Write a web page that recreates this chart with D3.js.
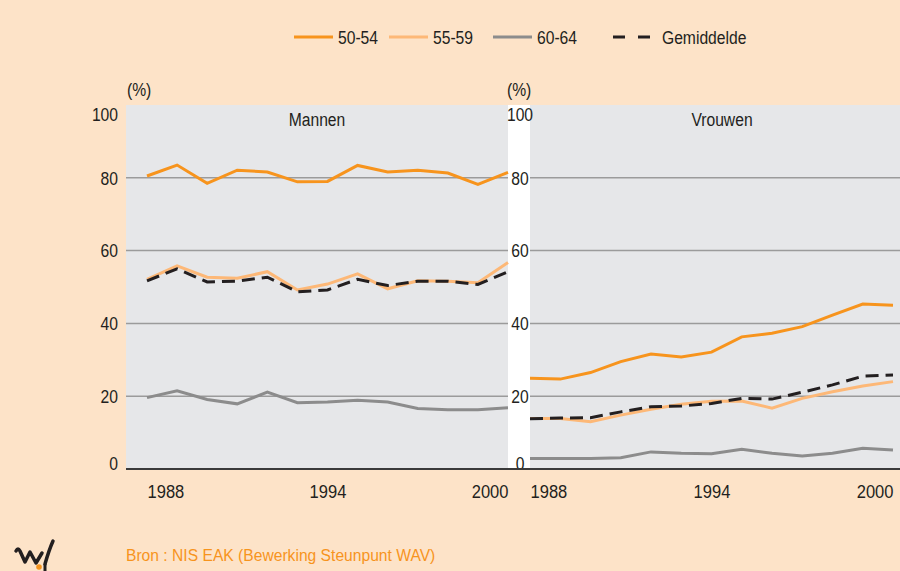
<!DOCTYPE html>
<html lang="nl">
<head>
<meta charset="UTF-8">
<title>Werkzaamheid 50-64</title>
<script src="https://d3js.org/d3.v7.min.js"></script>
<style>
    body { margin: 0; background: #fde3c8; }
    svg text { font-family: "Liberation Sans Narrow", "Liberation Sans", Arial, sans-serif; fill: #231f20; }
</style>
</head>
<body>
<div id="chart"></div>
<script>
    // data
    const years = [1988, 1989, 1990, 1991, 1992, 1993, 1994, 1995, 1996, 1997, 1998, 1999, 2000];
    const mannen5054 = [80.5, 83.5, 78.5, 82.1, 81.6, 78.9, 79.0, 83.4, 81.6, 82.1, 81.3, 78.2, 81.5];
    const mannen5559 = [52.1, 55.8, 52.7, 52.4, 54.2, 49.2, 50.8, 53.6, 49.5, 51.7, 51.6, 51.2, 56.7];
    const mannen6064 = [19.6, 21.5, 19.1, 17.9, 21.1, 18.2, 18.4, 18.9, 18.4, 16.6, 16.3, 16.3, 16.8];
    const mannenGem = [51.7, 55.0, 51.4, 51.6, 52.7, 48.7, 49.2, 52.1, 50.4, 51.6, 51.6, 50.7, 54.2];
    const vrouwen5054 = [24.9, 24.7, 26.5, 29.5, 31.6, 30.8, 32.1, 36.3, 37.3, 39.1, 42.3, 45.3, 45.0];
    const vrouwen5559 = [13.9, 13.9, 13.0, 14.8, 16.4, 17.8, 18.6, 18.7, 16.7, 19.4, 21.2, 22.8, 24.0];
    const vrouwen6064 = [2.9, 2.9, 2.9, 3.1, 4.7, 4.3, 4.2, 5.4, 4.3, 3.6, 4.3, 5.7, 5.2];
    const vrouwenGem = [13.8, 14.0, 14.1, 15.7, 17.1, 17.3, 18.0, 19.4, 19.2, 21.1, 23.1, 25.5, 25.8];
    const seriesNames = ["50-54", "55-59", "60-64", "Gemiddelde"];
    const yTicks = [0, 20, 40, 60, 80, 100];
    const xTicks = [1988, 1994, 2000];

    const colors = {"50-54": "#f7941d", "55-59": "#fdb877", "60-64": "#8c8c8c", "Gemiddelde": "#231f20"};
    const dashes = {"Gemiddelde": "13,7"};

    // no condensed font installed, so squeeze the text horizontally
    const SX = 0.87;
    function narrow(sel, sx) {
        sx = sx || SX;
        sel.each(function() {
            const t = d3.select(this);
            const x = +t.attr("x") || 0;
            t.attr("x", x / sx).attr("transform", `scale(${sx},1)`);
        });
    }

    const width = 900, height = 571;
    const svg = d3.select("#chart").append("svg")
        .attr("width", width)
        .attr("height", height);

    svg.append("rect").attr("width", width).attr("height", height).attr("fill", "#fde3c8");

    const y = d3.scaleLinear().domain([0, 100]).range([469, 105]);

    const panels = [
        {title: "Mannen", bg: [126, 508], range: [147, 508], titleX: 317,
            series: [mannen5054, mannen5559, mannen6064, mannenGem]},
        {title: "Vrouwen", bg: [530, 900], range: [530, 893], titleX: 722,
            series: [vrouwen5054, vrouwen5559, vrouwen6064, vrouwenGem]}
    ];

    // white strip between the panels
    svg.append("rect")
        .attr("x", 508).attr("y", y(100))
        .attr("width", 22).attr("height", y(0) - y(100))
        .attr("fill", "#ffffff");

    panels.forEach((p, pi) => {
        const x = d3.scaleLinear().domain([years[0], years[years.length - 1]]).range(p.range);
        const g = svg.append("g");

        g.append("rect")
            .attr("x", p.bg[0]).attr("y", y(100))
            .attr("width", p.bg[1] - p.bg[0]).attr("height", y(0) - y(100))
            .attr("fill", "#e6e7e9");

        g.selectAll("line.grid")
            .data(yTicks.filter(v => v > 0 && v < 100))
            .enter().append("line")
            .attr("class", "grid")
            .attr("x1", p.bg[0]).attr("x2", p.bg[1])
            .attr("y1", d => y(d)).attr("y2", d => y(d))
            .attr("stroke", "#9b9b9b")
            .attr("stroke-width", 1.5);

        g.append("text")
            .attr("x", p.titleX).attr("y", 126)
            .attr("text-anchor", "middle")
            .attr("font-size", 18)
            .text(p.title)
            .call(narrow);

        const line = d3.line()
            .x((d, i) => x(years[i]))
            .y(d => y(d));

        p.series.forEach((s, si) => {
            const name = seriesNames[si];
            g.append("path")
                .datum(s)
                .attr("d", line)
                .attr("fill", "none")
                .attr("stroke", colors[name])
                .attr("stroke-width", 3)
                .attr("stroke-dasharray", dashes[name] || null);
        });

        // x axis labels
        const xAxis = svg.append("g")
            .attr("transform", `translate(0,${y(0)})`)
            .call(d3.axisBottom(x).tickValues(xTicks).tickFormat(d3.format("d")).tickSize(0).tickPadding(16));
        xAxis.select(".domain").remove();
        xAxis.selectAll("text")
            .attr("font-size", 19)
            .attr("font-family", null)
            .attr("fill", null)
            .attr("text-anchor", (d, i) => i === 0 ? "start" : (i === xTicks.length - 1 ? "end" : "middle"))
            .call(narrow);

        // y axis labels
        const yAxis = svg.append("g")
            .attr("transform", `translate(${pi === 0 ? 126 : 520},0)`)
            .call(d3.axisLeft(y).tickValues(yTicks).tickSize(0).tickPadding(pi === 0 ? 8 : 0));
        yAxis.select(".domain").remove();
        yAxis.selectAll("text")
            .attr("font-size", 18)
            .attr("font-family", null)
            .attr("fill", null)
            .attr("text-anchor", pi === 0 ? "end" : "middle")
            .attr("dy", d => d === 100 ? "0.85em" : (d === 0 ? "0em" : "0.35em"))
            .call(narrow);

        svg.append("text")
            .attr("x", pi === 0 ? 127 : 507).attr("y", 96)
            .attr("font-size", 18)
            .text("(%)")
            .call(narrow);
    });

    // baseline
    svg.append("line")
        .attr("x1", 126).attr("x2", 900)
        .attr("y1", y(0)).attr("y2", y(0))
        .attr("stroke", "#3a3a3a").attr("stroke-width", 2);

    // legend
    const legendX = [294, 389, 493, 613];
    const legend = svg.append("g");
    seriesNames.forEach((name, i) => {
        const lg = legend.append("g").attr("transform", `translate(${legendX[i]},37)`);
        lg.append("line")
            .attr("x1", 0)
            .attr("x2", name === "Gemiddelde" ? 38 : 39)
            .attr("stroke", colors[name])
            .attr("stroke-width", 3)
            .attr("stroke-dasharray", name === "Gemiddelde" ? "12,13" : null);
        lg.append("text")
            .attr("x", name === "Gemiddelde" ? 49 : 44)
            .attr("y", 7)
            .attr("font-size", 18)
            .text(name)
            .call(narrow);
    });

    // source + logo
    svg.append("text")
        .attr("x", 126).attr("y", 561)
        .attr("font-size", 17)
        .style("fill", "#f7941d")
        .text("Bron : NIS EAK (Bewerking Steunpunt WAV)")
        .call(narrow, 0.92);

    const logo = svg.append("g");
    logo.append("path")
        .attr("d", "M16,551 Q18,547 20,551 L25,562 L30,552 L36,563 L42,553 M45,564 Q49,550 53,541")
        .attr("fill", "none")
        .attr("stroke", "#231f20")
        .attr("stroke-width", 3.5)
        .attr("stroke-linecap", "round")
        .attr("stroke-linejoin", "round");
    logo.append("path")
        .attr("d", "M45,571 L45,564")
        .attr("stroke", "#231f20")
        .attr("stroke-width", 3);
    logo.append("circle")
        .attr("cx", 39).attr("cy", 567).attr("r", 2.8)
        .attr("fill", "#f7941d");
</script>
</body>
</html>
